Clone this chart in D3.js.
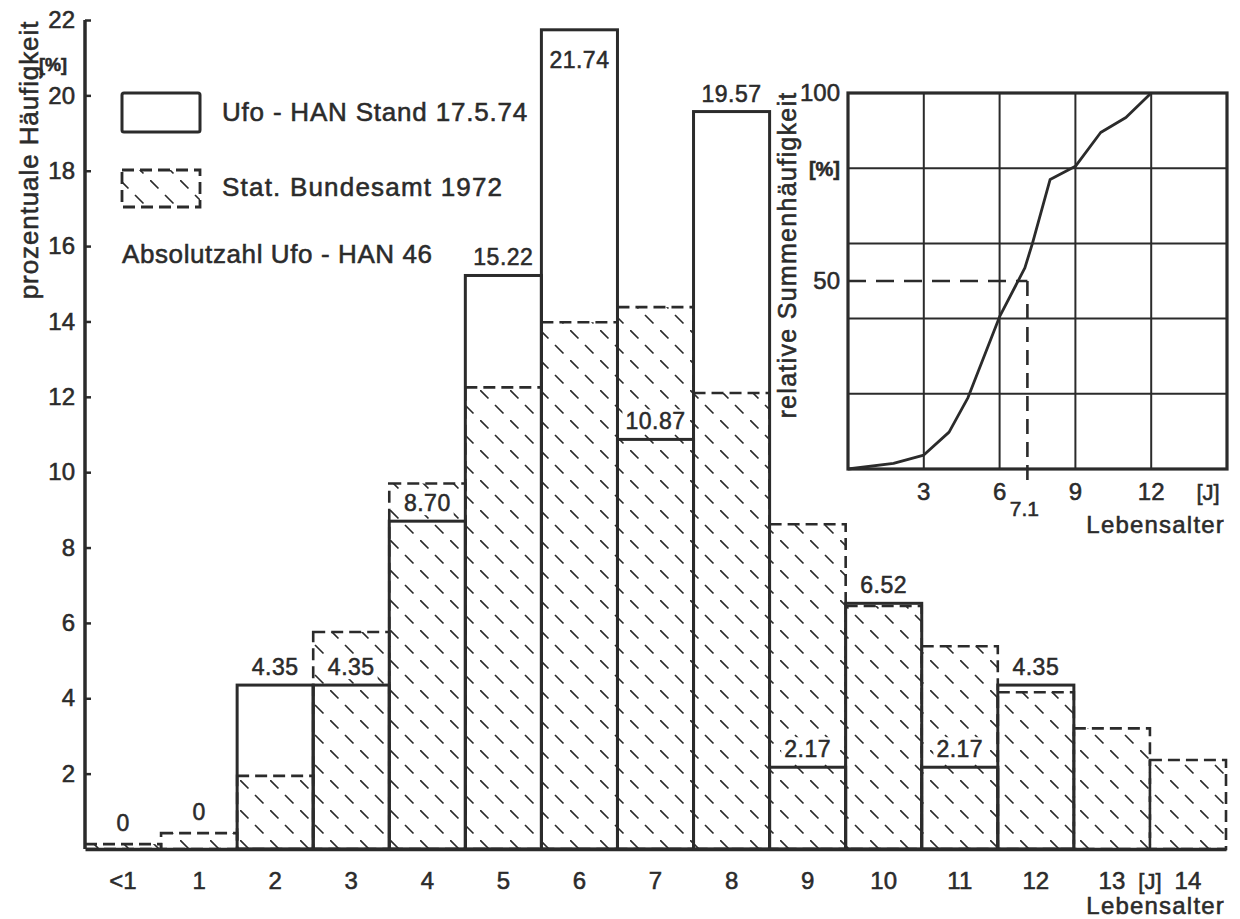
<!DOCTYPE html>
<html><head><meta charset="utf-8">
<script src="https://cdn.jsdelivr.net/npm/d3@7"></script>
<style>
body{margin:0;background:#fff;}
svg text{font-family:"Liberation Sans",Arial,sans-serif;fill:#2b2b2b;stroke:#2b2b2b;stroke-width:0.55px;}
</style></head><body>
<svg id="c" width="1240" height="919"></svg>
<script>
// ---- data ----
const ageCategories = ["<1","1","2","3","4","5","6","7","8","9","10","11","12","13","14"];
const ufoHanValues = [0,0,4.35,4.35,8.70,15.22,21.74,10.87,19.57,2.17,6.52,2.17,4.35,0,0];
const ufoHanLabels = ["0","0","4.35","4.35","8.70","15.22","21.74","10.87","19.57","2.17","6.52","2.17","4.35","",""];
const statBundesamtValues = [0.13,0.42,1.94,5.76,9.70,12.25,13.98,14.38,12.10,8.62,6.45,5.38,4.16,3.20,2.36];
const yTickValues = [2,4,6,8,10,12,14,16,18,20,22];

const cumAges = [0,1.8,3,4,4.75,6,7,7.3,8,9,10,11,12];
const cumPercent = [0,1.5,3.7,9.8,19,40.5,53.5,60,77,80.5,89.5,93.5,100];
const insetXTicks = [3,6,9,12];
const insetGridY = [20,40,60,80];
const insetYLabels = [50,100];
const medianAge = 7.1, medianPercent = 50;

// ---- setup ----
const ink = "#2b2b2b";
const svg = d3.select("#c");
svg.append("rect").attr("width",1240).attr("height",919).attr("fill","#fff");

const defs = svg.append("defs");
const T = 30;
const pat = defs.append("pattern").attr("id","hatch").attr("patternUnits","userSpaceOnUse")
  .attr("width",T).attr("height",T);
pat.append("line").attr("x1",0).attr("y1",0).attr("x2",T).attr("y2",T)
  .attr("stroke",ink).attr("stroke-width",1.7).attr("stroke-dasharray","12 9.21");

const x = d3.scaleBand().domain(ageCategories).range([85,1226]).padding(0);
const y = d3.scaleLinear().domain([0,22]).range([849,20]);

// Stat. Bundesamt bars (hatched, dashed outline)
svg.append("g").selectAll("rect").data(ageCategories).join("rect")
  .attr("x",d=>x(d)).attr("width",x.bandwidth())
  .attr("y",(d,i)=>y(statBundesamtValues[i]))
  .attr("height",(d,i)=>y(0)-y(statBundesamtValues[i]))
  .attr("fill","url(#hatch)").attr("stroke",ink).attr("stroke-width",2.6)
  .attr("stroke-dasharray","12 6");

// bar labels (with white background)
const lab = svg.append("g").selectAll("g").data(ageCategories).join("g");
lab.append("text")
  .attr("x",d=>x(d)+x.bandwidth()/2)
  .attr("y",(d,i)=>{
    const v=ufoHanValues[i];
    if(v===0) return y(statBundesamtValues[i])-13;
    if(v>21) return y(v)+38;
    return y(v)-10;
  })
  .attr("text-anchor","middle").attr("font-size",23).attr("letter-spacing",0.5)
  .text((d,i)=>ufoHanLabels[i]);
lab.each(function(){
  const g=d3.select(this), t=g.select("text");
  if(!t.text()) return;
  const b=t.node().getBBox();
  g.insert("rect","text").attr("x",b.x-3).attr("y",b.y+1).attr("width",b.width+6).attr("height",b.height-2).attr("fill","#fff");
});

// Ufo-HAN bars (solid outline)
svg.append("g").selectAll("rect").data(ageCategories.filter((d,i)=>ufoHanValues[i]>0)).join("rect")
  .attr("x",d=>x(d)).attr("width",x.bandwidth())
  .attr("y",d=>y(ufoHanValues[ageCategories.indexOf(d)]))
  .attr("height",d=>y(0)-y(ufoHanValues[ageCategories.indexOf(d)]))
  .attr("fill","none").attr("stroke",ink).attr("stroke-width",3);

// axes
const yAxis = d3.axisLeft(y).tickValues(yTickValues).tickSizeInner(-6).tickSizeOuter(0).tickPadding(10);
const gy = svg.append("g").attr("transform","translate(85,0)").call(yAxis);
gy.select(".domain").attr("stroke",ink).attr("stroke-width",3.5).attr("d","M0,"+y(0)+"V"+y(22));
gy.selectAll(".tick line").attr("stroke",ink).attr("stroke-width",2.5);
gy.selectAll(".tick text").attr("font-size",24).attr("fill",ink).style("font-family","Liberation Sans, Arial");

const xAxis = d3.axisBottom(x).tickSize(0).tickPadding(23);
const gx = svg.append("g").attr("transform","translate(0,"+y(0)+")").call(xAxis);
gx.select(".domain").attr("stroke",ink).attr("stroke-width",3.5);
gx.selectAll(".tick text").attr("font-size",24).attr("fill",ink).style("font-family","Liberation Sans, Arial");
svg.append("text").attr("x",x("14")).attr("y",889).attr("text-anchor","middle")
  .attr("font-size",22).text("[J]");
svg.append("text").attr("x",1225).attr("y",914).attr("text-anchor","end")
  .attr("font-size",24).attr("letter-spacing",1.2).text("Lebensalter");

// axis title
svg.append("text").attr("transform","translate(38,160) rotate(-90)").attr("text-anchor","middle")
  .attr("font-size",26).attr("letter-spacing",0.9).text("prozentuale Häufigkeit");
svg.append("text").attr("x",53).attr("y",71).attr("text-anchor","middle")
  .attr("font-size",18).attr("font-weight","bold").text("[%]");

// legend
svg.append("rect").attr("x",122).attr("y",93).attr("width",78).attr("height",39).attr("rx",2)
  .attr("fill","none").attr("stroke",ink).attr("stroke-width",3);
svg.append("rect").attr("x",122).attr("y",170).attr("width",78).attr("height",37)
  .attr("fill","url(#hatch)").attr("stroke",ink).attr("stroke-width",2.8).attr("stroke-dasharray","12 6");
svg.append("text").attr("x",222).attr("y",121).attr("font-size",26).attr("letter-spacing",0.8).text("Ufo - HAN Stand 17.5.74");
svg.append("text").attr("x",222).attr("y",196).attr("font-size",26).attr("letter-spacing",1.2).text("Stat. Bundesamt 1972");
svg.append("text").attr("x",122).attr("y",263).attr("font-size",26).attr("letter-spacing",0.6).text("Absolutzahl Ufo - HAN 46");

// ---- inset ----
const ix = d3.scaleLinear().domain([0,15]).range([848,1227]);
const iy = d3.scaleLinear().domain([0,100]).range([469,93]);
const ins = svg.append("g");
ins.selectAll("line.v").data(insetXTicks).join("line").attr("class","v")
  .attr("x1",d=>ix(d)).attr("x2",d=>ix(d)).attr("y1",iy(0)).attr("y2",iy(100))
  .attr("stroke",ink).attr("stroke-width",2);
ins.selectAll("line.h").data(insetGridY).join("line").attr("class","h")
  .attr("x1",ix(0)).attr("x2",ix(15)).attr("y1",d=>iy(d)).attr("y2",d=>iy(d))
  .attr("stroke",ink).attr("stroke-width",2);
ins.append("rect").attr("x",ix(0)).attr("y",iy(100)).attr("width",ix(15)-ix(0)).attr("height",iy(0)-iy(100))
  .attr("fill","none").attr("stroke",ink).attr("stroke-width",3.2);
ins.append("path").datum(cumAges.map((a,i)=>[a,cumPercent[i]]))
  .attr("d",d3.line().x(d=>ix(d[0])).y(d=>iy(d[1])).curve(d3.curveLinear))
  .attr("fill","none").attr("stroke",ink).attr("stroke-width",2.8).attr("stroke-linejoin","round");
ins.append("line").attr("x1",ix(0)).attr("x2",ix(medianAge)).attr("y1",iy(medianPercent)).attr("y2",iy(medianPercent))
  .attr("stroke",ink).attr("stroke-width",2.6).attr("stroke-dasharray","18 10");
ins.append("line").attr("x1",ix(medianAge)).attr("x2",ix(medianAge)).attr("y1",iy(medianPercent)).attr("y2",iy(0)+18)
  .attr("stroke",ink).attr("stroke-width",2.6).attr("stroke-dasharray","15 8");
ins.selectAll("text.xt").data(insetXTicks).join("text").attr("class","xt")
  .attr("x",d=>ix(d)).attr("y",500).attr("text-anchor","middle").attr("font-size",24).text(d=>d);
ins.append("text").attr("x",1208).attr("y",500).attr("text-anchor","middle").attr("font-size",22).text("[J]");
ins.append("text").attr("x",ix(medianAge)-3).attr("y",516).attr("text-anchor","middle").attr("font-size",21).text(medianAge.toFixed(1));
ins.append("text").attr("x",1225).attr("y",533).attr("text-anchor","end").attr("font-size",24).attr("letter-spacing",1.2).text("Lebensalter");
ins.selectAll("text.yt").data(insetYLabels).join("text").attr("class","yt")
  .attr("x",840).attr("y",d=>iy(d)).attr("dy","0.35em").attr("text-anchor","end").attr("font-size",24).text(d=>d);
ins.append("text").attr("x",840).attr("y",176).attr("text-anchor","end").attr("font-size",20).attr("font-weight","bold").text("[%]");
ins.append("text").attr("transform","translate(796,255) rotate(-90)").attr("text-anchor","middle")
  .attr("font-size",25).attr("letter-spacing",1.3).text("relative Summenhäufigkeit");
</script>
</body></html>
